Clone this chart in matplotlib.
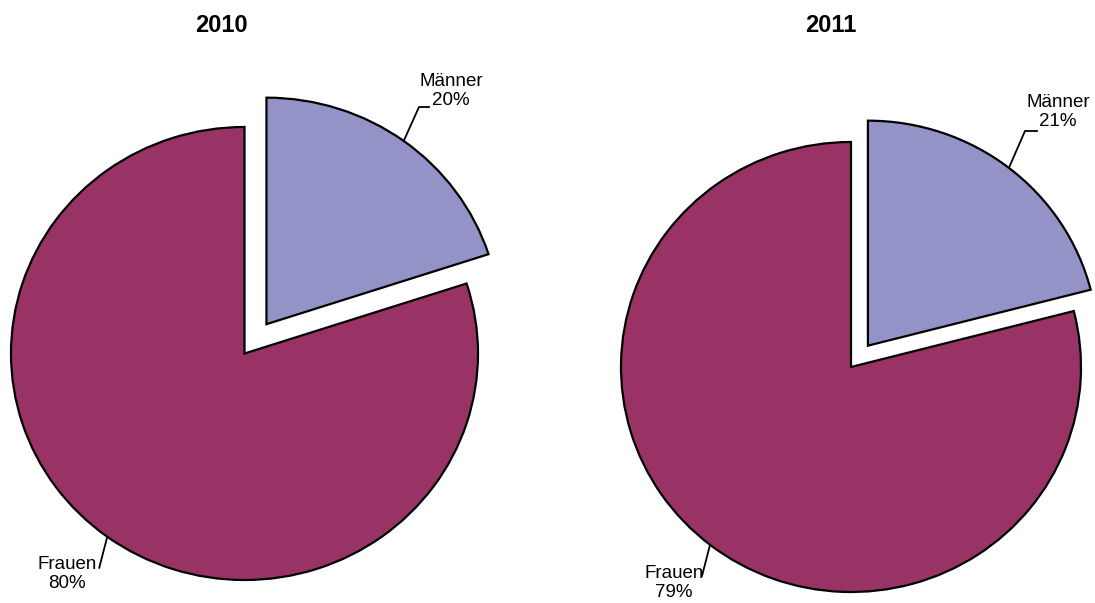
import matplotlib.pyplot as plt
import numpy as np

plt.rcParams['font.family'] = ['Liberation Sans', 'DejaVu Sans']

years = ["2010", "2011"]
labels = ["Männer", "Frauen"]
shares_2010 = [20, 80]
shares_2011 = [21, 79]
colors = ["#9393C8", "#993366"]

W, H = 1095, 603
fig = plt.figure(figsize=(W / 100, H / 100), dpi=100)

# pixel layout of each pie: center x, center y (from top), radius x, radius y
layout = [
    dict(cx=244.5, cy=353.5, rx=233.5, ry=226.5, explode=0.16,
         title_x=221.5, text_pos=[(451, 91), (67, 574)],
         knee=[(419, 107), None], stub=[(429, 107), None]),
    dict(cx=851, cy=367, rx=230, ry=225, explode=0.12,
         title_x=831, text_pos=[(1058, 112), (674, 583)],
         knee=[(1025, 131), None], stub=[(1037, 131), None]),
]


def px(x, y):
    return x / W, 1 - y / H


for year, shares, lay in zip(years, [shares_2010, shares_2011], layout):
    x0, y0 = px(lay["cx"] - lay["rx"], lay["cy"] + lay["ry"])
    ax = fig.add_axes([x0, y0, 2 * lay["rx"] / W, 2 * lay["ry"] / H])
    wedges, _ = ax.pie(shares, colors=colors, startangle=90, counterclock=False,
                       explode=[lay["explode"], 0], radius=1,
                       wedgeprops=dict(edgecolor="black", linewidth=1.6, clip_on=False))
    ax.set_aspect("auto")
    ax.set_xlim(-1, 1)
    ax.set_ylim(-1, 1)
    ax.axis("off")

    # leader lines from arc midpoint to label
    for i, w in enumerate(wedges):
        mid = np.deg2rad((w.theta1 + w.theta2) / 2)
        cxw, cyw = w.center
        ex = lay["cx"] + (cxw + np.cos(mid)) * lay["rx"]
        ey = lay["cy"] - (cyw + np.sin(mid)) * lay["ry"]
        tx, ty = lay["text_pos"][i]
        if lay["knee"][i] is not None:
            kx, ky = lay["knee"][i]
            sx, sy = lay["stub"][i]
            xs = [ex, kx, sx]
            ys = [ey, ky, sy]
        else:
            xs = [ex, ex - 8]
            ys = [ey, ey + 31]
        fx, fy = zip(*[px(a, b) for a, b in zip(xs, ys)])
        fig.add_artist(plt.Line2D(fx, fy, color="black", lw=1.3))
        fig.text(*px(tx, ty), f"{labels[i]}\n{shares[i]}%", ha="center", va="center",
                 fontsize=13.5, linespacing=1.1)

    fig.text(*px(lay["title_x"], 25.5), year, ha="center", va="center",
             fontsize=17, fontweight="bold")

fig.savefig("out.png", dpi=100)
